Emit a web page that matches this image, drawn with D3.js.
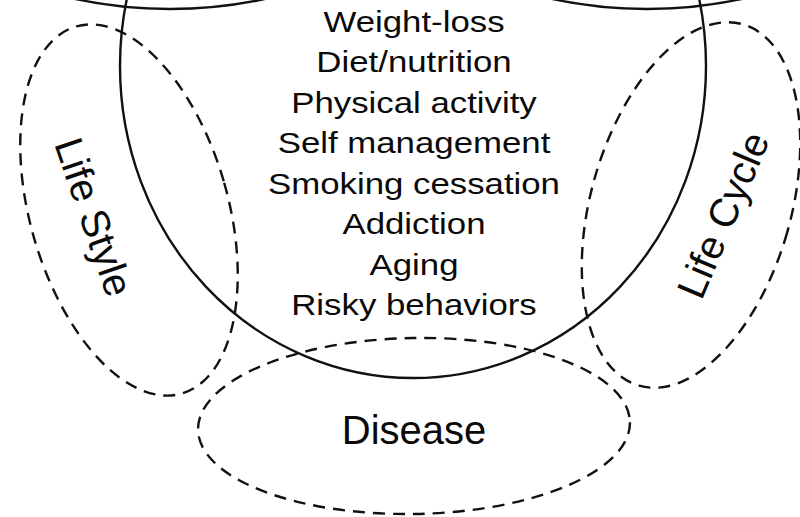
<!DOCTYPE html>
<meta charset="utf-8">
<style>
    body { margin: 0; background: #fff; }
    svg text {
        font-family: "Liberation Sans", Arial, sans-serif;
        fill: #0a0a0a;
    }
</style>
<svg width="800" height="517"></svg>
<script src="https://cdn.jsdelivr.net/npm/d3@7/dist/d3.min.js"></script>
<script>

    // topics listed inside the central circle, top to bottom
    var topics = ["Weight-loss", "Diet/nutrition", "Physical activity", "Self management",
                  "Smoking cessation", "Addiction", "Aging", "Risky behaviors"];

    // dashed domains around it
    var domains = ["Life Style", "Life Cycle", "Disease"];

    var svg = d3.select("svg");

    // layout (pixels)
    var main = {cx: 413, cy: 66, rx: 293, ry: 312};
    var topArcs = [{cx: 170, cy: -441, r: 450}, {cx: 647, cy: -441, r: 450}];
    var shapes = [
        {cx: 129, cy: 210, rx: 99, ry: 191, rot: -16, tx: 94, ty: 217, trot: 71},
        {cx: 691, cy: 205, rx: 100, ry: 188, rot: 16, tx: 723, ty: 215, trot: -67},
        {cx: 414, cy: 426, rx: 216, ry: 88, rot: -1, tx: 414, ty: 430, trot: 0}
    ];

    var y = d3.scaleLinear()
        .domain([0, topics.length - 1])
        .range([32, 315]);

    // partial circles cut off by the top edge
    svg.append("g").selectAll("circle")
        .data(topArcs)
        .enter().append("circle")
        .attr("cx", d => d.cx)
        .attr("cy", d => d.cy)
        .attr("r", d => d.r)
        .attr("fill", "none")
        .attr("stroke", "#111")
        .attr("stroke-width", 2.4);

    svg.append("ellipse")
        .attr("cx", main.cx)
        .attr("cy", main.cy)
        .attr("rx", main.rx)
        .attr("ry", main.ry)
        .attr("fill", "none")
        .attr("stroke", "#111")
        .attr("stroke-width", 2.4);

    let dom = svg.append("g").selectAll("g")
        .data(domains)
        .enter().append("g");

    dom.append("ellipse")
        .attr("transform", (d, i) => "translate(" + shapes[i].cx + "," + shapes[i].cy + ") rotate(" + shapes[i].rot + ")")
        .attr("rx", (d, i) => shapes[i].rx)
        .attr("ry", (d, i) => shapes[i].ry)
        .attr("fill", "none")
        .attr("stroke", "#111")
        .attr("stroke-width", 2.4)
        .attr("stroke-dasharray", "12,8");

    dom.append("text")
        .attr("transform", (d, i) => "translate(" + shapes[i].tx + "," + shapes[i].ty + ") rotate(" + shapes[i].trot + ")")
        .attr("text-anchor", "middle")
        .attr("dy", "0.35em")
        .attr("font-size", "40px")
        .text(d => d);

    // stacked topic list, drawn a bit wide like the source
    svg.append("g").selectAll("text")
        .data(topics)
        .enter().append("text")
        .attr("transform", (d, i) => "translate(414," + y(i) + ") scale(1.2,1)")
        .attr("text-anchor", "middle")
        .attr("font-size", "29px")
        .text(d => d);

</script>
